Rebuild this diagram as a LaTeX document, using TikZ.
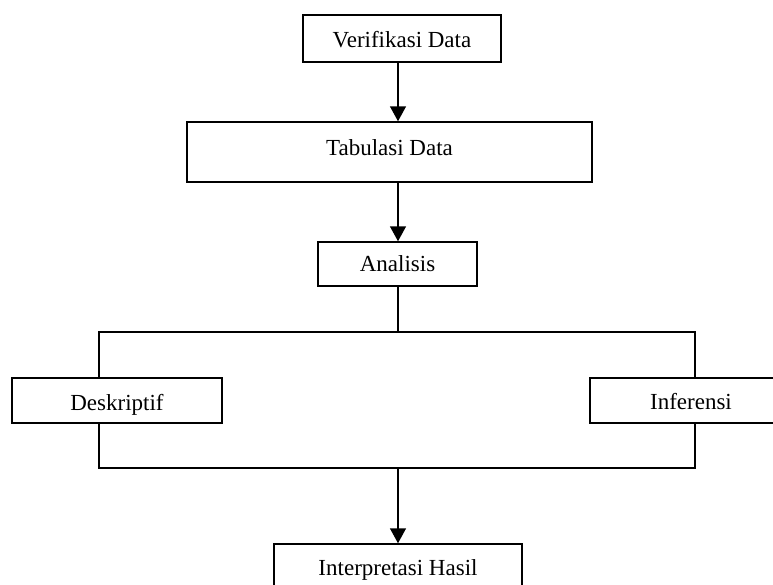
\documentclass[tikz,border=0pt]{standalone}
\usepackage{fontspec}
\setmainfont{Liberation Serif}
\usetikzlibrary{arrows.meta}
\begin{document}
\begin{tikzpicture}[x=1pt,y=-1pt,
  box/.style={draw,line width=1.5pt,inner xsep=0pt,inner ysep=0pt,font=\fontsize{23}{26}\selectfont,anchor=center},
  conn/.style={line width=1.5pt},
  arr/.style={line width=1.5pt,-{Triangle[length=15pt,width=16pt]}}]
\clip (0,0) rectangle (773,584);
\fill[white] (0,0) rectangle (773,584);
\node[box,minimum width=198pt,text height=32pt,text depth=15pt] (v) at (402,38.5) {Verifikasi Data};
\node[box,minimum width=405pt,text height=33pt,text depth=27pt] (t) at (389.5,152) {Tabulasi Data};
\node[box,minimum width=159pt,text height=29.5pt,text depth=14.5pt] (a) at (397.5,264) {Analisis};
\node[box,minimum width=210pt,text height=32pt,text depth=13pt] (d) at (117,400.5) {Deskriptif};
\node[box,minimum width=202pt,text height=31pt,text depth=14pt] (i) at (691,400.5) {Inferensi};
\node[box,minimum width=248pt,text height=31pt,text depth=19pt] (h) at (398,569) {Interpretasi Hasil};
\coordinate (jt) at (398,332);
\coordinate (jb) at (398,468);
\coordinate (tl) at (99,332);
\coordinate (tr) at (695,332);
\coordinate (bl) at (99,468);
\coordinate (br) at (695,468);
\draw[arr] (v.south -| jt) -- (t.north -| jt);
\draw[arr] (t.south -| jt) -- (a.north -| jt);
\draw[conn] (a.south -| jt) -- (jt);
\draw[conn] (d.north -| tl) -- (tl) -- (tr) -- (i.north -| tr);
\draw[conn] (d.south -| bl) -- (bl) -- (br) -- (i.south -| br);
\draw[arr] (jb) -- (h.north -| jb);
\end{tikzpicture}
\end{document}
